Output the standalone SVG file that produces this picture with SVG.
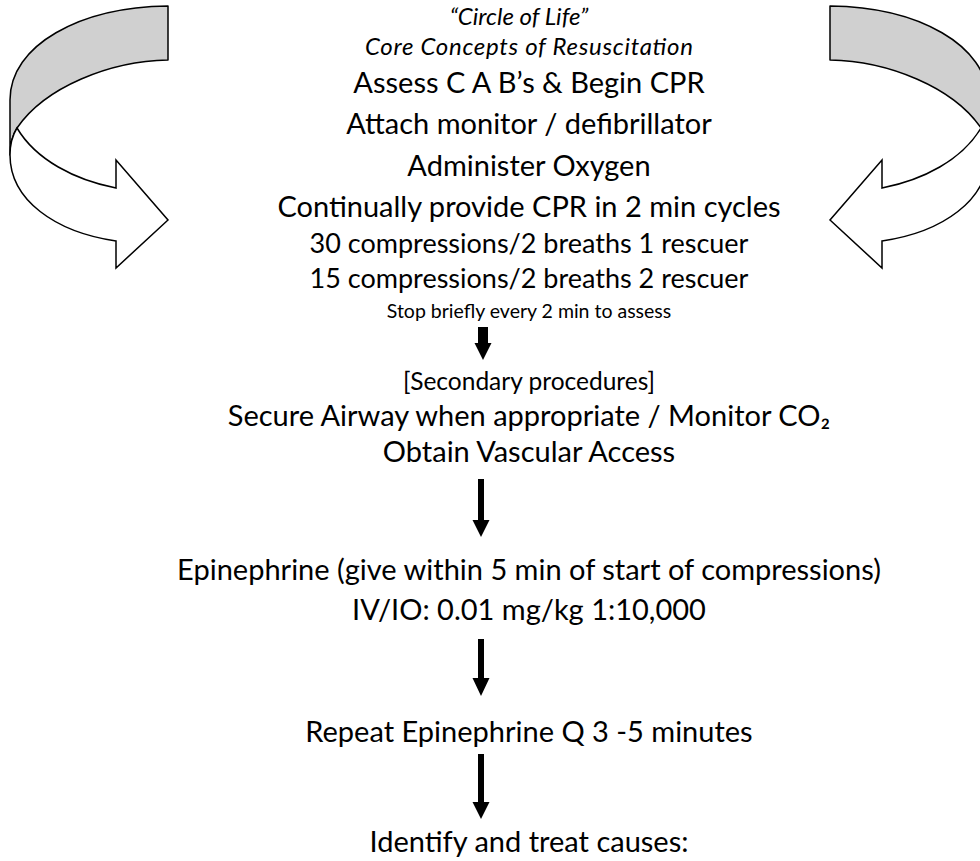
<svg xmlns="http://www.w3.org/2000/svg" width="980" height="861" viewBox="0 0 980 861">
<style>
text{font-family:Lato,"Liberation Sans",sans-serif;fill:#000;text-anchor:middle}
.it{font-style:italic;font-size:24px}
.l{font-size:29px}
.m{font-size:27px}
.sc{font-size:24.5px}
.s{font-size:19.5px}
.band{fill:#d0d0d0;stroke:#000;stroke-width:1.5;stroke-linejoin:round}
.front{fill:#fff;stroke:#000;stroke-width:1.5;stroke-linejoin:miter}
.arr{fill:#000}
</style>
<defs>
<g id="curved">
<path class="band" d="M168,6 C80,7 10,45 10,100 L10,155 C10,145 12,136 17,128 C45,87 110,61 168,60 Z"/>
<path class="front" d="M17,128 C36,160 75,180 116,188 L116,160 L168,220 L116,268 L116,241 C55,232 10,200 10,155 C10,145 12,136 17,128 Z"/>
</g>
</defs>
<g id="arrow-left"><use href="#curved"/></g>
<g id="arrow-right"><use href="#curved" transform="translate(998,0) scale(-1,1)"/></g>
<g id="node-primary">
<text class="it" x="519" y="25">“Circle of Life”</text>
<text class="it" x="529" y="55" textLength="328" lengthAdjust="spacing">Core Concepts of Resuscitation</text>
<text class="l" x="529" y="93">Assess C A B’s &amp; Begin CPR</text>
<text class="l" x="529" y="134">Attach monitor / defibrillator</text>
<text class="l" x="529" y="176">Administer Oxygen</text>
<text class="l" x="529" y="217">Continually provide CPR in 2 min cycles</text>
<text class="m" x="529" y="253">30 compressions/2 breaths 1 rescuer</text>
<text class="m" x="529" y="288">15 compressions/2 breaths 2 rescuer</text>
<text class="s" x="529" y="318">Stop briefly every 2 min to assess</text>
</g>
<g id="node-secondary">
<text class="sc" x="529" y="390">[Secondary procedures]</text>
<text class="l" x="529" y="426">Secure Airway when appropriate / Monitor CO₂</text>
<text class="l" x="529" y="462">Obtain Vascular Access</text>
</g>
<g id="node-epi">
<text class="l" x="529" y="580">Epinephrine (give within 5 min of start of compressions)</text>
<text class="l" x="529" y="620">IV/IO: 0.01 mg/kg 1:10,000</text>
</g>
<g id="node-repeat">
<text class="l" x="529" y="742">Repeat Epinephrine Q 3 -5 minutes</text>
</g>
<g id="node-causes">
<text class="l" x="529" y="852">Identify and treat causes:</text>
</g>
<g id="connectors">
<path class="arr" d="M478,327 L488,327 L488,343 L491.5,343 L483,360 L474.5,343 L478,343 Z"/>
<path class="arr" d="M478,479 L484,479 L484,520 L489.5,520 L481,537 L472.5,520 L478,520 Z"/>
<path class="arr" d="M478,639 L484,639 L484,678 L489.5,678 L481,696 L472.5,678 L478,678 Z"/>
<path class="arr" d="M478,754 L484,754 L484,802 L489.5,802 L481,819 L472.5,802 L478,802 Z"/>
</g>
</svg>
